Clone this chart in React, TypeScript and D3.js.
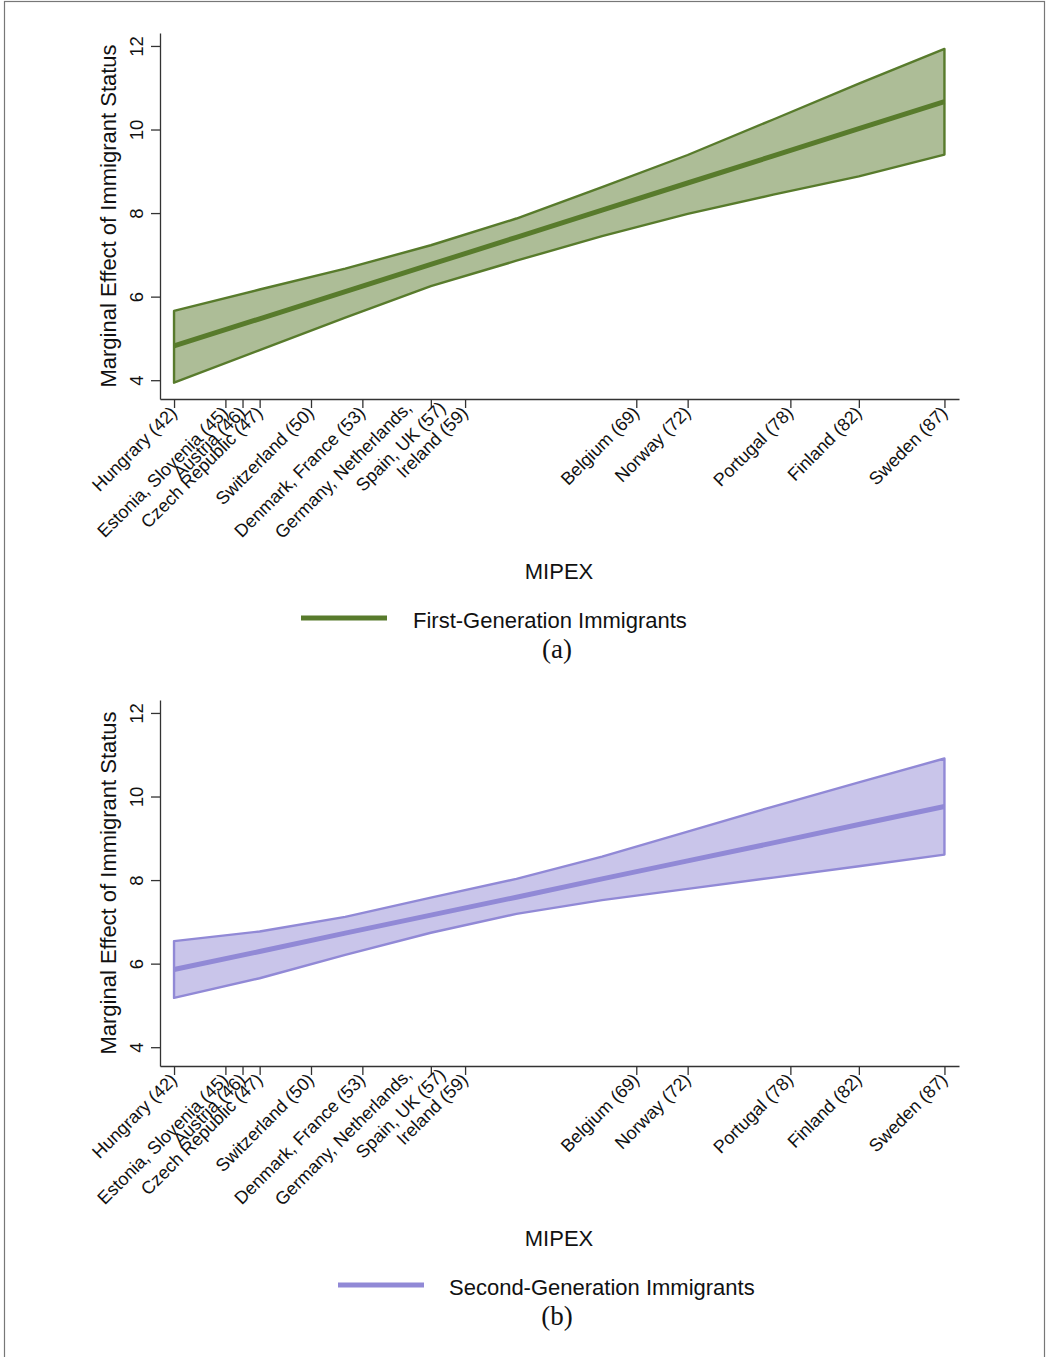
import React, { useEffect, useRef } from "react";
import * as d3 from "d3";

// MIPEX values at which the marginal effects were evaluated
const mipexGrid = [42, 47, 52, 57, 62, 67, 72, 77, 82, 87];

// first-generation immigrants
const firstGenEffect = [4.82, 5.47, 6.12, 6.77, 7.42, 8.07, 8.72, 9.37, 10.02, 10.67];
const firstGenUpper = [5.66, 6.17, 6.67, 7.23, 7.87, 8.62, 9.39, 10.24, 11.1, 11.93];
const firstGenLower = [3.94, 4.72, 5.5, 6.25, 6.86, 7.45, 7.98, 8.44, 8.88, 9.4];

// second-generation immigrants
const secondGenEffect = [5.86, 6.29, 6.73, 7.16, 7.59, 8.03, 8.46, 8.89, 9.33, 9.76];
const secondGenUpper = [6.54, 6.77, 7.12, 7.58, 8.03, 8.56, 9.16, 9.76, 10.34, 10.91];
const secondGenLower = [5.18, 5.65, 6.21, 6.74, 7.19, 7.52, 7.79, 8.06, 8.33, 8.61];

const countryTicks = [42, 45, 46, 47, 50, 53, 57, 59, 69, 72, 78, 82, 87];
const countryLabels = [
  ["Hungrary (42)"],
  ["Estonia, Slovenia (45)"],
  ["Austria (46)"],
  ["Czech Republic (47)"],
  ["Switzerland (50)"],
  ["Denmark, France (53)"],
  ["Germany, Netherlands,", "Spain, UK (57)"],
  ["Ireland (59)"],
  ["Belgium (69)"],
  ["Norway (72)"],
  ["Portugal (78)"],
  ["Finland (82)"],
  ["Sweden (87)"],
];
const yTicks = [4, 6, 8, 10, 12];

const sans = "'Liberation Sans', Arial, Helvetica, sans-serif";

const panels = [
  {
    top: 0,
    effect: firstGenEffect,
    upper: firstGenUpper,
    lower: firstGenLower,
    stroke: "#587b2c",
    fill: "#adbd97",
    legend: "First-Generation Immigrants",
    keyX: [301, 387],
    keyTextX: 413,
    tag: "(a)",
  },
  {
    top: 667,
    effect: secondGenEffect,
    upper: secondGenUpper,
    lower: secondGenLower,
    stroke: "#9189d6",
    fill: "#c9c5ea",
    legend: "Second-Generation Immigrants",
    keyX: [338, 424],
    keyTextX: 449,
    tag: "(b)",
  },
];

const App = () => {
  const ref = useRef<HTMLDivElement>(null);

  useEffect(() => {
    const width = 1049;
    const height = 1357;

    const svg = d3.create("svg")
      .attr("width", width)
      .attr("height", height)
      .style("position", "absolute")
      .style("left", 0)
      .style("top", 0)
      .style("background", "#fff");

    // page frame
    svg.append("rect")
      .attr("x", 4.5)
      .attr("y", 1.5)
      .attr("width", 1040)
      .attr("height", 1370)
      .attr("fill", "none")
      .attr("stroke", "#777")
      .attr("stroke-width", 1.2);

    const x = d3.scaleLinear().domain([41.18, 87.85]).range([160, 959]);

    panels.forEach(p => {
      const y = d3.scaleLinear().domain([3.55, 12.31]).range([399 + p.top, 33 + p.top]);
      const g = svg.append("g");
      const rows = mipexGrid.map((m, i) => ({ m, e: p.effect[i], hi: p.upper[i], lo: p.lower[i] }));

      // confidence band
      g.append("path")
        .datum(rows)
        .attr("d", d3.area<any>().x(d => x(d.m)).y0(d => y(d.lo)).y1(d => y(d.hi)))
        .attr("fill", p.fill)
        .attr("stroke", p.stroke)
        .attr("stroke-width", 2.4)
        .attr("stroke-linejoin", "round");

      // point estimate
      g.append("path")
        .datum(rows)
        .attr("d", d3.line<any>().x(d => x(d.m)).y(d => y(d.e)))
        .attr("fill", "none")
        .attr("stroke", p.stroke)
        .attr("stroke-width", 5);

      // y axis
      const yAxis = g.append("g")
        .attr("transform", "translate(160,0)")
        .call(d3.axisLeft(y).tickValues(yTicks).tickSize(9).tickSizeOuter(0).tickFormat(d3.format("d")));
      yAxis.select(".domain").attr("stroke", "#333").attr("stroke-width", 1.3);
      yAxis.selectAll(".tick line").attr("stroke", "#333").attr("stroke-width", 1.3);
      yAxis.selectAll(".tick text")
        .attr("x", null)
        .attr("dy", null)
        .attr("transform", "translate(-17,0) rotate(-90)")
        .attr("text-anchor", "middle")
        .attr("fill", "#111")
        .style("font", `18.5px ${sans}`);

      g.append("text")
        .attr("transform", `translate(116,${216 + p.top}) rotate(-90)`)
        .attr("text-anchor", "middle")
        .attr("fill", "#111")
        .style("font", `22px ${sans}`)
        .text("Marginal Effect of Immigrant Status");

      // x axis
      const xAxis = g.append("g")
        .attr("transform", `translate(0,${399 + p.top})`)
        .call(d3.axisBottom(x).tickValues(countryTicks).tickSize(9).tickSizeOuter(0).tickFormat(() => ""));
      xAxis.select(".domain").attr("stroke", "#333").attr("stroke-width", 1.3);
      xAxis.selectAll(".tick line").attr("stroke", "#333").attr("stroke-width", 1.3);

      countryTicks.forEach((t, i) => {
        const lines = countryLabels[i];
        lines.forEach((line, j) => {
          let ax = x(t) + 4;
          let ay = 414 + p.top;
          if (lines.length > 1) {
            ax = x(t) + (j === 0 ? -18 : 16);
            ay = 409 + p.top;
          }
          g.append("text")
            .attr("transform", `translate(${ax},${ay}) rotate(-45)`)
            .attr("text-anchor", "end")
            .attr("fill", "#111")
            .style("font", `18px ${sans}`)
            .text(line);
        });
      });

      g.append("text")
        .attr("x", 559)
        .attr("y", 579 + p.top)
        .attr("text-anchor", "middle")
        .attr("fill", "#111")
        .style("font", `22px ${sans}`)
        .text("MIPEX");

      // legend
      g.append("line")
        .attr("x1", p.keyX[0])
        .attr("x2", p.keyX[1])
        .attr("y1", 618 + p.top)
        .attr("y2", 618 + p.top)
        .attr("stroke", p.stroke)
        .attr("stroke-width", 5);
      g.append("text")
        .attr("x", p.keyTextX)
        .attr("y", 628 + p.top)
        .attr("fill", "#111")
        .style("font", `22px ${sans}`)
        .text(p.legend);

      g.append("text")
        .attr("x", 557)
        .attr("y", 658 + p.top)
        .attr("text-anchor", "middle")
        .attr("fill", "#111")
        .style("font", `27px 'Liberation Serif', 'Times New Roman', serif`)
        .text(p.tag);
    });

    ref.current!.innerHTML = "";
    ref.current!.appendChild(svg.node()!);
  }, []);

  return <div ref={ref} />;
};

export default App;
